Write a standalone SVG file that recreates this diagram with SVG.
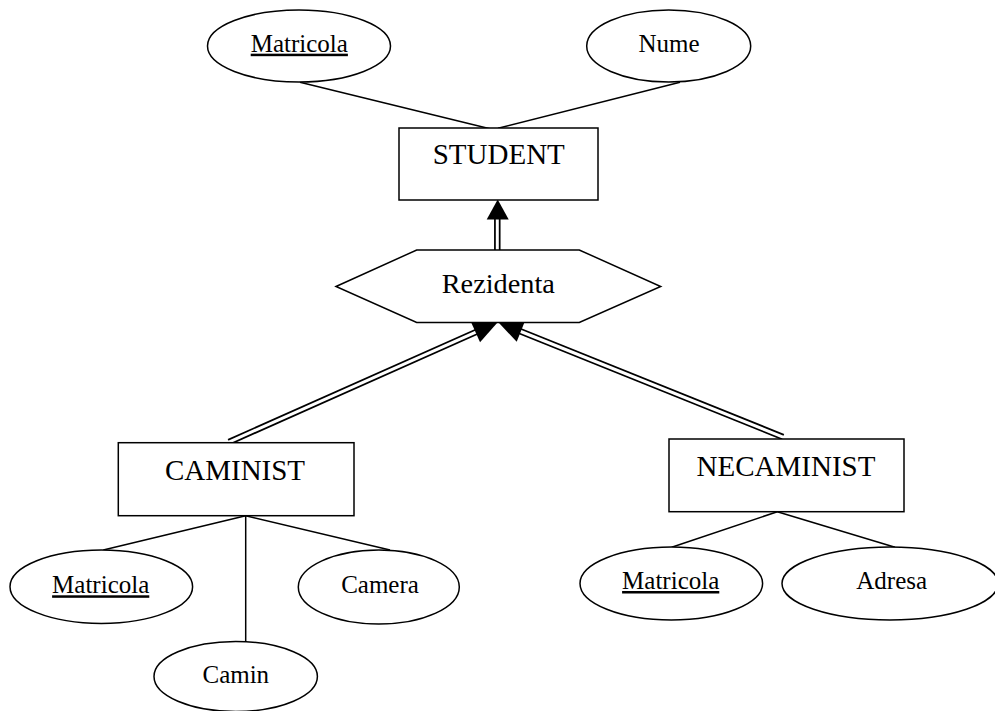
<svg xmlns="http://www.w3.org/2000/svg" width="995" height="711" viewBox="0 0 995 711">
<style>
.shape{fill:#fff;stroke:#000;stroke-width:1.5}
.ln{stroke:#000;stroke-width:1.5;fill:none}
.dbl-o{stroke:#000;stroke-width:6.5;fill:none}
.dbl-i{stroke:#fff;stroke-width:3;fill:none}
.head{fill:#000;stroke:none}
.ent{font-family:"Liberation Serif","Times New Roman",serif;font-size:29px;fill:#000;text-anchor:middle}
.rel{font-family:"Liberation Serif","Times New Roman",serif;font-size:28.3px;fill:#000;text-anchor:middle}
.att{font-family:"Liberation Serif","Times New Roman",serif;font-size:25px;fill:#000;text-anchor:middle}
.key{text-decoration:underline}
</style>
<rect width="995" height="711" fill="#fff"/>
<g id="connectors">
<line class="ln" x1="300" y1="82.3" x2="495" y2="130"/>
<line class="ln" x1="680" y1="82.3" x2="498" y2="128.3"/>
<line class="ln" x1="245.7" y1="515.7" x2="103.3" y2="550"/>
<line class="ln" x1="245.7" y1="515.7" x2="390" y2="550"/>
<line class="ln" x1="245.7" y1="515.7" x2="245.7" y2="641.7"/>
<line class="ln" x1="777.3" y1="511.7" x2="671.7" y2="547.3"/>
<line class="ln" x1="777.3" y1="511.7" x2="895" y2="547.3"/>
<g id="isa-student">
<line class="dbl-o" x1="497.3" y1="250" x2="497.3" y2="215"/>
<line class="dbl-i" x1="497.3" y1="251" x2="497.3" y2="215"/>
<polygon class="head" points="497.7,199.5 486.7,219.5 508.7,219.5"/>
</g>
<g id="isa-caminist">
<line class="dbl-o" x1="229" y1="442" x2="479.2" y2="330.6"/>
<line class="dbl-i" x1="228.3" y1="442.3" x2="479.2" y2="330.6"/>
<polygon class="head" points="497.5,322.5 480.05,342.3 471.1,322.2"/>
</g>
<g id="isa-necaminist">
<line class="dbl-o" x1="783" y1="437" x2="517.1" y2="330"/>
<line class="dbl-i" x1="783.7" y1="437.3" x2="517.1" y2="330"/>
<polygon class="head" points="498.5,322.5 524.9,321.3 516.7,341.7"/>
</g>
</g>
<g id="student">
<rect class="shape" x="399" y="128" width="199" height="72"/>
<text class="ent" x="498.8" y="164.3">STUDENT</text>
</g>
<g id="student-matricola">
<ellipse class="shape" cx="299" cy="46" rx="91.5" ry="36"/>
<text class="att key" x="299.3" y="51.7">Matricola</text>
</g>
<g id="student-nume">
<ellipse class="shape" cx="668.7" cy="46" rx="82" ry="36"/>
<text class="att" x="669" y="51.7">Nume</text>
</g>
<g id="rezidenta">
<polygon class="shape" points="336,286.5 416.7,250 579.3,250 660.7,286.5 579.3,322.5 416.7,322.5"/>
<text class="rel" x="498.3" y="293.3">Rezidenta</text>
</g>
<g id="caminist">
<rect class="shape" x="118.3" y="442.7" width="235.7" height="73"/>
<text class="ent" x="235" y="480">CAMINIST</text>
</g>
<g id="caminist-matricola">
<ellipse class="shape" cx="101.3" cy="586.7" rx="91.3" ry="36.7"/>
<text class="att key" x="100.7" y="593.3">Matricola</text>
</g>
<g id="caminist-camera">
<ellipse class="shape" cx="378.8" cy="587" rx="80.5" ry="37"/>
<text class="att" x="380" y="593.3">Camera</text>
</g>
<g id="caminist-camin">
<ellipse class="shape" cx="235.7" cy="676.5" rx="81.7" ry="35"/>
<text class="att" x="235.8" y="683.3">Camin</text>
</g>
<g id="necaminist">
<rect class="shape" x="669" y="439" width="235" height="72.7"/>
<text class="ent" x="786" y="475.7">NECAMINIST</text>
</g>
<g id="necaminist-matricola">
<ellipse class="shape" cx="671.3" cy="583.5" rx="91.3" ry="36.5"/>
<text class="att key" x="670.7" y="589">Matricola</text>
</g>
<g id="necaminist-adresa">
<ellipse class="shape" cx="890" cy="583.5" rx="108" ry="36.5"/>
<text class="att" x="891.7" y="589">Adresa</text>
</g>
</svg>
